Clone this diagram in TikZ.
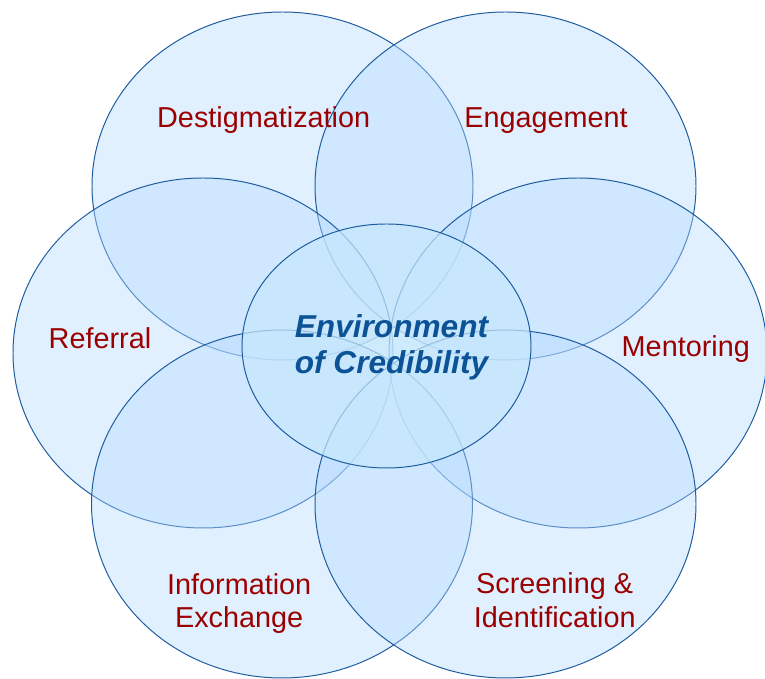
\documentclass[tikz,border=0pt]{standalone}
\usepackage{fontspec}
\setmainfont{Liberation Sans}
\definecolor{ringblue}{RGB}{30,92,158}
\definecolor{ringfill}{RGB}{180,217,255}
\definecolor{corefill}{RGB}{198,232,252}
\definecolor{areared}{RGB}{155,0,0}
\definecolor{coreblue}{RGB}{12,82,150}
\tikzset{
  ring/.style={draw=ringblue,line width=0.7pt,fill=ringfill,fill opacity=0.4},
  core/.style={draw=ringblue,line width=0.7pt,fill=corefill,fill opacity=0.7},
  areatext/.style={text=areared,font=\fontsize{20.5pt}{24.1pt}\selectfont,align=center,inner sep=0pt},
  coretext/.style={text=coreblue,font=\fontsize{22.5pt}{25.8pt}\selectfont\bfseries\itshape,align=center,inner sep=0pt}
}
\begin{document}
\begin{tikzpicture}
\useasboundingbox (0,0) rectangle (19.125,16.975);
%outer rings
\draw[ring] (7.0625,12.325) ellipse [x radius=4.7625, y radius=4.35];
\draw[ring] (12.6375,12.325) ellipse [x radius=4.7625, y radius=4.35];
\draw[ring] (5.075,8.15) ellipse [x radius=4.75, y radius=4.375];
\draw[ring] (14.45,8.15) ellipse [x radius=4.725, y radius=4.375];
\draw[ring] (7.05,4.375) ellipse [x radius=4.7625, y radius=4.35];
\draw[ring] (12.6375,4.375) ellipse [x radius=4.7625, y radius=4.35];
%centre
\draw[core] (9.6625,8.325) ellipse [x radius=3.6125, y radius=3.05];

\node[areatext,anchor=base] (destig) at (6.5925,13.775) {Destigmatization};
\node[areatext,anchor=base] (engage) at (13.65,13.775) {Engagement};
\node[areatext,anchor=base] (referral) at (2.5,8.25) {Referral};
\node[areatext,anchor=base] (mentor) at (17.145,8.05) {Mentoring};
\node[areatext] (info) at (5.98,1.8875) {Information\\Exchange};
\node[areatext] (screen) at (13.8675,1.9625) {Screening \&\\Identification};
\node[coretext] (credib) at (9.7875,8.3) {Environment\\of Credibility};
\end{tikzpicture}
\end{document}
